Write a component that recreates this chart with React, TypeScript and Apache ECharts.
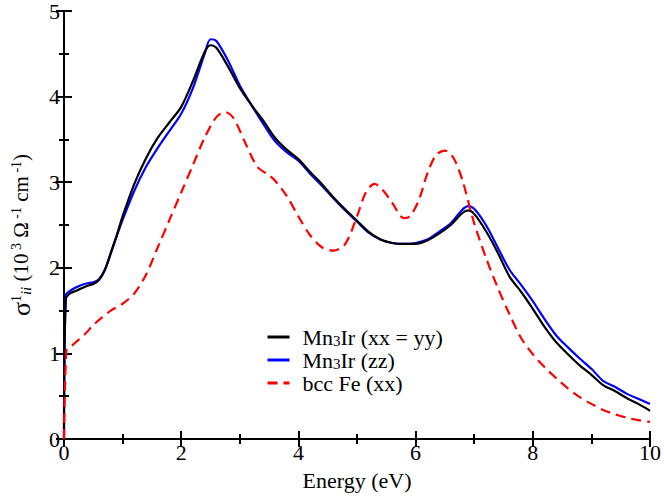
import React, { useEffect, useRef } from "react";
import * as echarts from "echarts";

const mnEnergy = [0, 0.03, 0.1, 0.2, 0.3, 0.4, 0.5, 0.6, 0.7, 0.8, 0.9, 1.0, 1.2, 1.4, 1.6, 1.8, 2.0, 2.2, 2.4, 2.5, 2.6, 2.8, 3.0, 3.2, 3.4, 3.6, 3.8, 4.0, 4.2, 4.4, 4.6, 4.8, 5.0, 5.2, 5.4, 5.6, 5.8, 6.0, 6.2, 6.4, 6.6, 6.8, 6.9, 7.0, 7.2, 7.4, 7.6, 7.8, 8.0, 8.2, 8.4, 8.6, 8.8, 9.0, 9.2, 9.4, 9.6, 9.8, 10.0];
const mnXX = [0, 1.63, 1.70, 1.73, 1.76, 1.79, 1.81, 1.86, 1.98, 2.18, 2.38, 2.60, 2.98, 3.28, 3.52, 3.70, 3.88, 4.18, 4.52, 4.60, 4.57, 4.35, 4.10, 3.90, 3.72, 3.52, 3.38, 3.27, 3.12, 2.98, 2.82, 2.68, 2.55, 2.42, 2.33, 2.29, 2.28, 2.28, 2.32, 2.40, 2.50, 2.64, 2.67, 2.63, 2.43, 2.18, 1.90, 1.72, 1.52, 1.31, 1.13, 0.99, 0.86, 0.75, 0.63, 0.56, 0.48, 0.41, 0.33];
const mnZZ = [0, 1.68, 1.73, 1.77, 1.80, 1.82, 1.83, 1.87, 1.98, 2.17, 2.37, 2.56, 2.90, 3.18, 3.40, 3.60, 3.80, 4.10, 4.50, 4.67, 4.65, 4.42, 4.13, 3.90, 3.68, 3.48, 3.35, 3.25, 3.10, 2.96, 2.81, 2.67, 2.54, 2.41, 2.33, 2.29, 2.28, 2.29, 2.33, 2.42, 2.52, 2.68, 2.72, 2.69, 2.50, 2.24, 1.98, 1.80, 1.61, 1.40, 1.21, 1.07, 0.94, 0.82, 0.68, 0.61, 0.53, 0.47, 0.41];

const feEnergy = [0, 0.04, 0.1, 0.2, 0.35, 0.5, 0.65, 0.8, 1.0, 1.2, 1.4, 1.6, 1.8, 2.0, 2.2, 2.4, 2.6, 2.75, 2.9, 3.1, 3.3, 3.5, 3.6, 3.8, 4.0, 4.2, 4.4, 4.6, 4.8, 5.0, 5.15, 5.3, 5.45, 5.6, 5.8, 5.9, 6.05, 6.2, 6.35, 6.5, 6.65, 6.8, 7.0, 7.2, 7.4, 7.6, 7.8, 8.0, 8.2, 8.4, 8.6, 8.8, 9.0, 9.2, 9.4, 9.6, 9.8, 10.0];
const feXX = [0, 1.03, 1.07, 1.13, 1.22, 1.33, 1.42, 1.50, 1.58, 1.70, 1.92, 2.24, 2.56, 2.88, 3.20, 3.52, 3.76, 3.82, 3.74, 3.45, 3.18, 3.08, 3.02, 2.84, 2.60, 2.38, 2.24, 2.20, 2.28, 2.60, 2.88, 2.98, 2.90, 2.76, 2.58, 2.60, 2.78, 3.10, 3.32, 3.37, 3.28, 3.02, 2.52, 2.12, 1.77, 1.46, 1.18, 0.99, 0.84, 0.71, 0.59, 0.49, 0.41, 0.34, 0.29, 0.25, 0.22, 0.20];

const seriesNames = ["Mn3Ir (xx = yy)", "Mn3Ir (zz)", "bcc Fe (xx)"];

const FONT = "Liberation Serif";

function pairs(xs: number[], ys: number[]) {
  return xs.map((x, i) => [x, ys[i]]);
}

export default function App() {
  const ref = useRef<HTMLDivElement>(null);
  useEffect(() => {
    if (!ref.current) return;
    const chart = echarts.init(ref.current, undefined, { renderer: "svg" });
    const axisLine = { show: true, lineStyle: { color: "#000", width: 2 } };
    const tick = { show: true, inside: true, length: 8, lineStyle: { color: "#000", width: 2 } };
    const minor = { show: true, splitNumber: 2, length: 5, lineStyle: { color: "#000", width: 2 } };
    const option: any = {
      animation: false,
      backgroundColor: "#fff",
      textStyle: { fontFamily: FONT },
      grid: { left: 59, right: 10, top: 8, bottom: 53, containLabel: false },
      legend: {
        orient: "vertical",
        left: 261,
        top: 321,
        itemWidth: 22,
        itemHeight: 12,
        itemGap: 1,
        data: seriesNames,
        itemStyle: { opacity: 0 },
        lineStyle: { width: 3 },
        formatter: (name: string) => {
          if (name.startsWith("Mn3Ir")) {
            return "{a|Mn}{s|3}{a|Ir" + name.slice(5) + "}";
          }
          return "{a|" + name + "}";
        },
        textStyle: {
          fontFamily: FONT,
          fontSize: 22,
          color: "#000",
          padding: [0, 0, 0, 8],
          rich: {
            a: { fontFamily: FONT, fontSize: 22, lineHeight: 22, color: "#000" },
            s: { fontFamily: FONT, fontSize: 15, lineHeight: 11, color: "#000", verticalAlign: "bottom" },
          },
        },
      },
      xAxis: [
        {
          type: "value",
          min: 0,
          max: 10,
          interval: 2,
          position: "bottom",
          name: "Energy (eV)",
          nameLocation: "middle",
          nameGap: 30,
          nameTextStyle: { fontFamily: FONT, fontSize: 22, color: "#000" },
          axisLine,
          axisTick: tick,
          minorTick: minor,
          splitLine: { show: false },
          axisLabel: { fontFamily: FONT, fontSize: 22, color: "#000", margin: 2 },
        },
        {
          type: "value",
          min: 0,
          max: 10,
          interval: 2,
          position: "top",
          axisLine,
          axisTick: tick,
          minorTick: minor,
          splitLine: { show: false },
          axisLabel: { show: false },
        },
      ],
      yAxis: [
        {
          type: "value",
          min: 0,
          max: 5,
          interval: 1,
          position: "left",
          name: "{g|σ}{sup|1}{sub|ii}{t| (10}{sup| 3}{t| Ω}{sup| -1}{t| cm}{sup| -1}{t|)}",
          nameLocation: "middle",
          nameRotate: 90,
          nameGap: 31,
          nameTextStyle: {
            fontFamily: FONT,
            fontSize: 21,
            color: "#000",
            padding: [0, 20, 0, 0],
            rich: {
              g: { fontFamily: FONT, fontSize: 26, lineHeight: 24, color: "#000" },
              t: { fontFamily: FONT, fontSize: 21, lineHeight: 24, color: "#000" },
              sup: { fontFamily: FONT, fontSize: 14, lineHeight: 10, color: "#000", verticalAlign: "top" },
              sub: { fontFamily: FONT, fontSize: 15, lineHeight: 10, fontStyle: "italic", color: "#000", verticalAlign: "bottom" },
            },
          },
          axisLine,
          axisTick: tick,
          minorTick: minor,
          splitLine: { show: false },
          axisLabel: { fontFamily: FONT, fontSize: 22, color: "#000", margin: 4 },
        },
        {
          type: "value",
          min: 0,
          max: 5,
          interval: 1,
          position: "right",
          axisLine,
          axisTick: tick,
          minorTick: minor,
          splitLine: { show: false },
          axisLabel: { show: false },
        },
      ],
      series: [
        {
          name: seriesNames[0],
          type: "line",
          data: pairs(mnEnergy, mnXX),
          smooth: 0.3,
          showSymbol: false,
          symbol: "none",
          lineStyle: { color: "#000", width: 2.2 },
          itemStyle: { color: "#000" },
          z: 3,
        },
        {
          name: seriesNames[1],
          type: "line",
          data: pairs(mnEnergy, mnZZ),
          smooth: 0.3,
          showSymbol: false,
          symbol: "none",
          lineStyle: { color: "#0000ff", width: 2.2 },
          itemStyle: { color: "#0000ff" },
          z: 2,
        },
        {
          name: seriesNames[2],
          type: "line",
          data: pairs(feEnergy, feXX),
          smooth: 0.3,
          showSymbol: false,
          symbol: "none",
          lineStyle: { color: "#ff0000", width: 2.2, type: [10, 6] },
          itemStyle: { color: "#ff0000" },
          z: 4,
        },
      ],
    };
    chart.setOption(option);
    return () => chart.dispose();
  }, []);
  return (
    <div
      ref={ref}
      style={{ position: "absolute", left: 0, top: 0, width: 664, height: 496, background: "#fff" }}
    />
  );
}
